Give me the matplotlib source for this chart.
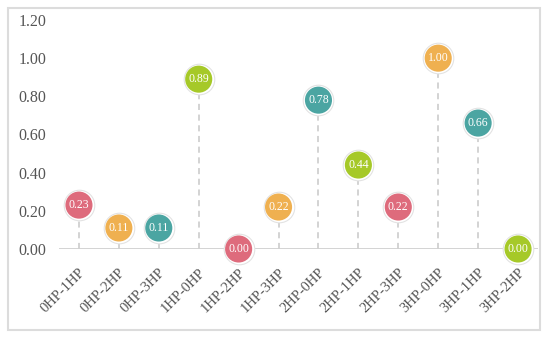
import matplotlib
matplotlib.use("Agg")
import matplotlib.pyplot as plt
from matplotlib.patches import Rectangle

categories = ["0HP-1HP", "0HP-2HP", "0HP-3HP", "1HP-0HP", "1HP-2HP", "1HP-3HP",
              "2HP-0HP", "2HP-1HP", "2HP-3HP", "3HP-0HP", "3HP-1HP", "3HP-2HP"]
values = [0.23, 0.11, 0.11, 0.89, 0.00, 0.22, 0.78, 0.44, 0.22, 1.00, 0.66, 0.00]
palette = ["#de6b7c", "#efb050", "#4ba5a2", "#a6c928"]
y_ticks = [0.0, 0.2, 0.4, 0.6, 0.8, 1.0, 1.2]

serif = ["Liberation Serif", "DejaVu Serif"]

fig = plt.figure(figsize=(5.5, 3.42), dpi=100)
ax = fig.add_axes([59/550, 1-249/342, (538-59)/550, (249-20)/342])

fig.patches.append(Rectangle((8/550, 1-330/342), (540-8)/550, (330-8)/342,
                             transform=fig.transFigure, fill=False,
                             edgecolor="#dcdcdc", linewidth=1.5, zorder=0))

x = list(range(len(categories)))
colors = [palette[i % len(palette)] for i in x]

for xi, v in zip(x, values):
    if v > 0:
        ax.plot([xi, xi], [0, v], color="#c8c8c8", linestyle=(0, (4, 3)), linewidth=1.1, zorder=1)

ax.axhline(0, color="#d0d0d0", linewidth=1.3, zorder=1)

ax.scatter(x, values, s=22.8**2, color="#e3e3e3", zorder=3, linewidths=0, clip_on=False)
ax.scatter(x, values, s=21.2**2, color="white", zorder=4, linewidths=0, clip_on=False)
ax.scatter(x, values, s=19.5**2, color=colors, zorder=5, linewidths=0, clip_on=False)

for xi, v in zip(x, values):
    ax.text(xi, v, f"{v:.2f}", ha="center", va="center", color="white",
            fontsize=8.5, family=serif, zorder=6, clip_on=False)

ax.set_xlim(-0.5, len(categories) - 0.5)
ax.set_ylim(0, 1.2)
ax.set_yticks(y_ticks)
ax.set_yticklabels([f"{t:.2f}" for t in y_ticks], family=serif, fontsize=11.5, color="#555555")
ax.set_xticks(x)
ax.set_xticklabels(categories, family=serif, fontsize=10.5, color="#555555",
                   rotation=45, ha="right", rotation_mode="anchor")
ax.tick_params(axis="both", length=0)
ax.tick_params(axis="y", pad=9)
ax.tick_params(axis="x", pad=12)
for s in ax.spines.values():
    s.set_visible(False)
ax.patch.set_visible(False)

fig.savefig("out.png", dpi=100)
